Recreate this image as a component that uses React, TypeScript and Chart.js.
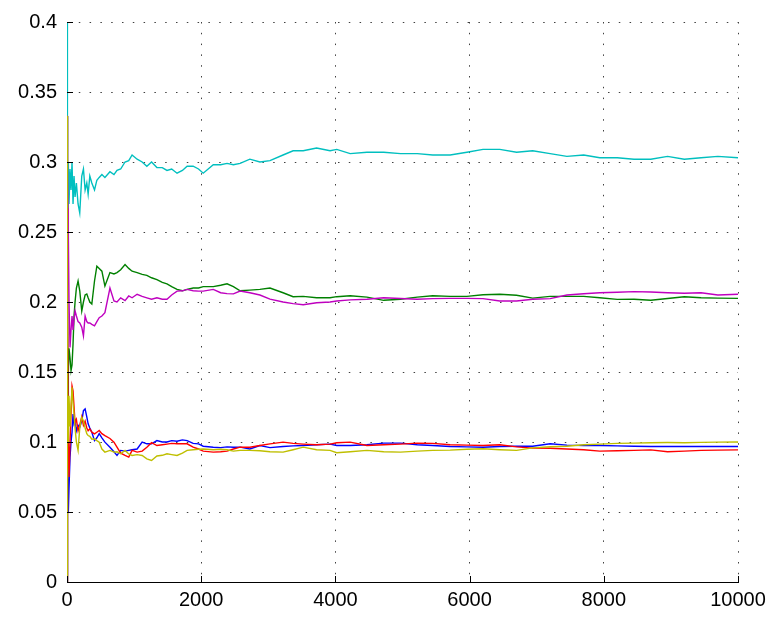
import React, { useEffect, useRef } from "react";
import { Chart, registerables } from "chart.js";

Chart.register(...registerables);

const STEPS = [
  1, 3, 6, 10, 15, 20, 30, 45, 60, 75,
  90, 105, 120, 140, 165, 190, 220, 245, 270, 295,
  315, 340, 370, 410, 445, 480, 520, 565, 640, 700,
  745, 800, 865, 920, 970, 1045, 1120, 1190, 1260, 1340,
  1420, 1490, 1560, 1640, 1720, 1790, 1880, 1960, 2030, 2180,
  2290, 2385, 2480, 2580, 2725, 2875, 3025, 3220, 3370, 3520,
  3720, 3920, 4020, 4220, 4470, 4720, 4970, 5220, 5450, 5710,
  5960, 6200, 6450, 6700, 6940, 7200, 7450, 7700, 7940, 8200,
  8450, 8700, 8950, 9200, 9450, 9700, 10000,
];

const BLUE_VALUES = [
  0, 0.333, 0.167, 0.1, 0.067, 0.05, 0.067, 0.089, 0.1, 0.107,
  0.12, 0.113, 0.115, 0.108, 0.112, 0.1105, 0.115, 0.1224, 0.1236, 0.118,
  0.113, 0.11, 0.107, 0.101, 0.103, 0.106, 0.103, 0.0999, 0.0963, 0.093,
  0.0904, 0.094, 0.0935, 0.094, 0.0945, 0.095, 0.0999, 0.0987, 0.0987, 0.101,
  0.1, 0.1, 0.101, 0.1005, 0.1015, 0.101, 0.099, 0.0987, 0.097, 0.0963,
  0.096, 0.0965, 0.0963, 0.0963, 0.095, 0.0975, 0.096, 0.0968, 0.0972, 0.0975,
  0.098, 0.0985, 0.0975, 0.0975, 0.098, 0.0992, 0.0992, 0.098, 0.0975, 0.0968,
  0.0965, 0.0963, 0.0968, 0.097, 0.097, 0.0987, 0.0978, 0.0975, 0.0975, 0.0972,
  0.097, 0.0968, 0.0968, 0.0968, 0.0968, 0.0968, 0.0968,
];

const GREEN_VALUES = [
  0, 0.333, 0.167, 0.2, 0.133, 0.15, 0.167, 0.16, 0.151, 0.155,
  0.17, 0.19, 0.2, 0.21, 0.215, 0.208, 0.1936, 0.2, 0.205, 0.2057,
  0.203, 0.2, 0.1986, 0.215, 0.2256, 0.224, 0.222, 0.2114, 0.221, 0.22,
  0.221, 0.223, 0.2268, 0.224, 0.222, 0.221, 0.2197, 0.219, 0.2173, 0.216,
  0.214, 0.213, 0.211, 0.209, 0.208, 0.209, 0.21, 0.21, 0.211, 0.211,
  0.212, 0.213, 0.211, 0.208, 0.2085, 0.209, 0.21, 0.2066, 0.2038, 0.204,
  0.203, 0.203, 0.2038, 0.2045, 0.2035, 0.2012, 0.202, 0.2035, 0.2045, 0.204,
  0.204, 0.2052, 0.2055, 0.2048, 0.2028, 0.204, 0.204, 0.204, 0.203, 0.2019,
  0.202, 0.2012, 0.2025, 0.2038, 0.203, 0.2028, 0.2026,
];

const RED_VALUES = [
  0, 0.333, 0.167, 0.2, 0.133, 0.1, 0.075, 0.1, 0.12, 0.14,
  0.1366, 0.125, 0.1135, 0.116, 0.108, 0.112, 0.118, 0.112, 0.115, 0.11,
  0.108, 0.1094, 0.107, 0.1058, 0.107, 0.1082, 0.106, 0.1046, 0.1025, 0.0999,
  0.0963, 0.092, 0.0904, 0.0892, 0.094, 0.0928, 0.0935, 0.0963, 0.0995, 0.0975,
  0.098, 0.0985, 0.099, 0.0988, 0.0987, 0.0987, 0.0963, 0.095, 0.0935, 0.0928,
  0.093, 0.0935, 0.095, 0.0963, 0.0963, 0.0975, 0.0987, 0.0999, 0.099, 0.0985,
  0.098, 0.0985, 0.0995, 0.0999, 0.0975, 0.098, 0.0985, 0.0992, 0.099, 0.098,
  0.0978, 0.0975, 0.098, 0.0965, 0.0956, 0.0955, 0.095, 0.0945, 0.0935, 0.0938,
  0.094, 0.0944, 0.093, 0.0935, 0.094, 0.0942, 0.0944,
];

const CYAN_VALUES = [
  1, 0.333, 0.333, 0.3, 0.267, 0.3, 0.27, 0.295, 0.28, 0.3,
  0.27, 0.29, 0.275, 0.285, 0.27, 0.2636, 0.29, 0.295, 0.28, 0.285,
  0.277, 0.29, 0.285, 0.28, 0.287, 0.289, 0.291, 0.289, 0.293, 0.291,
  0.294, 0.295, 0.3, 0.301, 0.305, 0.302, 0.3, 0.297, 0.3, 0.296,
  0.296, 0.294, 0.295, 0.292, 0.294, 0.297, 0.297, 0.295, 0.292, 0.298,
  0.298, 0.299, 0.298, 0.299, 0.302, 0.3, 0.301, 0.305, 0.308, 0.308,
  0.31, 0.308, 0.309, 0.306, 0.307, 0.307, 0.306, 0.306, 0.305, 0.305,
  0.307, 0.309, 0.309, 0.307, 0.308, 0.306, 0.304, 0.305, 0.303, 0.303,
  0.302, 0.302, 0.304, 0.302, 0.303, 0.304, 0.303,
];

const MAGENTA_VALUES = [
  0, 0.333, 0.333, 0.3, 0.267, 0.25, 0.2, 0.1675, 0.18, 0.19,
  0.18, 0.188, 0.1936, 0.19, 0.186, 0.185, 0.182, 0.1758, 0.19, 0.186,
  0.185, 0.185, 0.184, 0.183, 0.186, 0.1888, 0.19, 0.1924, 0.21, 0.2007,
  0.2, 0.203, 0.201, 0.2043, 0.203, 0.2055, 0.204, 0.203, 0.202, 0.203,
  0.202, 0.202, 0.205, 0.2078, 0.208, 0.209, 0.208, 0.2078, 0.2078, 0.209,
  0.2066, 0.206, 0.2058, 0.2078, 0.2066, 0.205, 0.202, 0.2, 0.1988, 0.198,
  0.1995, 0.2, 0.2007, 0.2015, 0.202, 0.203, 0.2025, 0.202, 0.2024, 0.2026,
  0.2026, 0.2024, 0.2007, 0.2007, 0.202, 0.2024, 0.205, 0.2059, 0.2066, 0.207,
  0.2074, 0.2071, 0.2066, 0.2062, 0.2066, 0.205, 0.2055,
];

const YELLOW_VALUES = [
  0, 0.333, 0, 0.1, 0.133, 0.1, 0.133, 0.111, 0.125, 0.139,
  0.128, 0.12, 0.11, 0.1, 0.094, 0.11, 0.1177, 0.115, 0.11, 0.106,
  0.1046, 0.104, 0.102, 0.1023, 0.101, 0.0999, 0.095, 0.0928, 0.094, 0.0928,
  0.093, 0.0916, 0.094, 0.0915, 0.0904, 0.091, 0.0904, 0.088, 0.0868, 0.09,
  0.0905, 0.0916, 0.091, 0.0904, 0.092, 0.094, 0.0945, 0.0948, 0.095, 0.0945,
  0.0948, 0.0945, 0.0935, 0.094, 0.094, 0.0938, 0.093, 0.0928, 0.0945, 0.0963,
  0.0945, 0.094, 0.0923, 0.093, 0.094, 0.093, 0.0928, 0.0935, 0.094, 0.0942,
  0.0948, 0.0952, 0.0945, 0.094, 0.0958, 0.0966, 0.097, 0.098, 0.0985, 0.099,
  0.0992, 0.0995, 0.0996, 0.0995, 0.0997, 0.0999, 0.1,
];

const SERIES = [
  { name: "blue", color: "#0000FF", values: BLUE_VALUES, order: 6 },
  { name: "green", color: "#008000", values: GREEN_VALUES, order: 5 },
  { name: "red", color: "#FF0000", values: RED_VALUES, order: 4 },
  { name: "cyan", color: "#00BFBF", values: CYAN_VALUES, order: 3 },
  { name: "magenta", color: "#BF00BF", values: MAGENTA_VALUES, order: 2 },
  { name: "yellow", color: "#BFBF00", values: YELLOW_VALUES, order: 1 },
];

const X_MIN = 0;
const X_MAX = 10000;
const X_STEP = 2000;
const Y_MIN = 0;
const Y_MAX = 0.4;
const Y_STEP = 0.05;

const FONT = "'Liberation Sans', Arial, Helvetica, sans-serif";

const inwardTicks = {
  id: "inwardTicks",
  afterDraw(chart: any) {
    const { ctx, chartArea, scales } = chart;
    ctx.save();
    ctx.strokeStyle = "#000";
    ctx.lineWidth = 1;
    ctx.beginPath();
    scales.x.ticks.forEach((t: any) => {
      const px = Math.round(scales.x.getPixelForValue(t.value)) + 0.5;
      ctx.moveTo(px, chartArea.bottom);
      ctx.lineTo(px, chartArea.bottom - 6);
    });
    scales.y.ticks.forEach((t: any) => {
      const py = Math.round(scales.y.getPixelForValue(t.value)) + 0.5;
      ctx.moveTo(chartArea.left, py);
      ctx.lineTo(chartArea.left + 6, py);
    });
    ctx.stroke();
    ctx.restore();
  },
};

export default function App() {
  const canvasRef = useRef<HTMLCanvasElement | null>(null);

  useEffect(() => {
    if (!canvasRef.current) return;
    const chart = new Chart(canvasRef.current, {
      type: "line",
      data: {
        datasets: SERIES.map((s) => ({
          label: s.name,
          data: STEPS.map((x, i) => ({ x, y: s.values[i] })),
          borderColor: s.color,
          backgroundColor: s.color,
          borderWidth: 1.4,
          pointRadius: 0,
          tension: 0,
          fill: false,
          order: s.order,
        })),
      },
      options: {
        animation: false,
        responsive: false,
        maintainAspectRatio: false,
        layout: { padding: { top: 20, right: 35, left: 0, bottom: 0 } },
        plugins: {
          legend: { display: false },
          tooltip: { enabled: false },
        },
        scales: {
          x: {
            type: "linear",
            min: X_MIN,
            max: X_MAX,
            afterFit: (scale: any) => {
              scale.height = 37;
            },
            ticks: {
              stepSize: X_STEP,
              padding: 6,
              maxRotation: 0,
              color: "#000",
              font: { family: FONT, size: 20 },
              callback: (v: any) => String(v),
            },
            grid: {
              color: "rgba(0,0,0,0.75)",
              lineWidth: 1,
              drawTicks: false,
            },
            border: { display: true, color: "#000", width: 1, dash: [1.5, 9.3] },
          },
          y: {
            type: "linear",
            min: Y_MIN,
            max: Y_MAX,
            afterFit: (scale: any) => {
              scale.width = 67;
            },
            ticks: {
              stepSize: Y_STEP,
              padding: 10,
              color: "#000",
              font: { family: FONT, size: 20 },
              callback: (v: any) => String(Number(Number(v).toFixed(2))),
            },
            grid: {
              color: "rgba(0,0,0,0.75)",
              lineWidth: 1,
              drawTicks: false,
            },
            border: { display: true, color: "#000", width: 1, dash: [1.5, 9.3] },
          },
        },
      },
      plugins: [inwardTicks],
    });
    return () => chart.destroy();
  }, []);

  return (
    <div style={{ position: "absolute", left: 0, top: 0, width: 773, height: 619, background: "#fff" }}>
      <canvas ref={canvasRef} width={773} height={619} style={{ display: "block" }} />
    </div>
  );
}
